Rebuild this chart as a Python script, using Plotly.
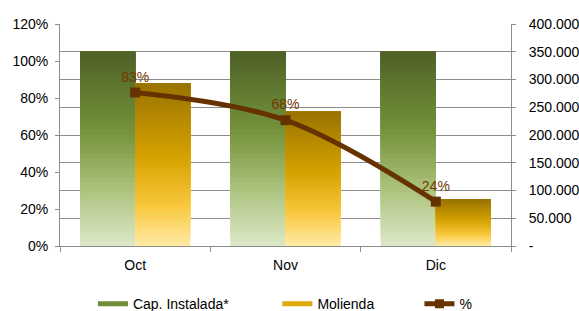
import plotly.graph_objects as go
from plotly.colors import sample_colorscale

# ---- data ----
categories = ["Oct", "Nov", "Dic"]
cap_instalada = [350000, 350000, 350000]
molienda = [293000, 242000, 84000]
pct = [0.83, 0.68, 0.24]
pct_labels = ["83%", "68%", "24%"]
right_tickvals = [0, 50000, 100000, 150000, 200000, 250000, 300000, 350000, 400000]
right_ticktext = ["-", "50.000", "100.000", "150.000", "200.000", "250.000", "300.000", "350.000", "400.000"]

FONT = "Liberation Sans, Arial, sans-serif"
GRID = "#8c8c8c"

green_scale = [[0.0, "#dbe7c4"], [0.3, "#a9c07a"], [0.6, "#73923a"], [1.0, "#4f6228"]]
orange_scale = [[0.0, "#ffe9a0"], [0.25, "#f8c63a"], [0.55, "#d6a200"], [1.0, "#9a7400"]]

N = 40
fig = go.Figure()


def add_gradient_bars(vals, scale, group):
    # layered bars: each layer spans from its start fraction up to the full value,
    # so successive layers build a vertical gradient without seams
    cols = sample_colorscale(scale, [i / (N - 1) for i in range(N)])
    for i in range(N):
        fig.add_trace(go.Bar(
            x=categories,
            y=[v * (N - i) / N for v in vals],
            base=[v * i / N for v in vals],
            offsetgroup=group,
            marker=dict(color=cols[i], line=dict(width=0)),
            showlegend=False,
            hoverinfo="skip",
            yaxis="y",
        ))


add_gradient_bars(cap_instalada, green_scale, "cap")
add_gradient_bars(molienda, orange_scale, "mol")

# percentage line (on left axis overlay)
fig.add_trace(go.Scatter(
    x=categories, y=pct, mode="lines+markers+text",
    line=dict(color="#663300", width=5, shape="spline", smoothing=1.0),
    marker=dict(symbol="square", size=10, color="#663300"),
    text=pct_labels, textposition="top center",
    textfont=dict(family=FONT, size=14, color="#763800"),
    yaxis="y2", showlegend=False, cliponaxis=False,
))

# legend entries
fig.add_trace(go.Scatter(x=[None], y=[None], mode="lines", name="Cap. Instalada*",
                         line=dict(color="#6f8c36", width=5), legend="legend"))
fig.add_trace(go.Scatter(x=[None], y=[None], mode="lines", name="Molienda",
                         line=dict(color="#e0a90a", width=5), legend="legend2"))
fig.add_trace(go.Scatter(x=[None], y=[None], mode="lines+markers", name="%",
                         line=dict(color="#663300", width=5),
                         marker=dict(symbol="square", size=9, color="#663300"),
                         legend="legend3", yaxis="y2"))

leg_common = dict(orientation="h", yanchor="middle", y=-0.262, xanchor="left",
                  font=dict(family=FONT, size=14, color="#000000"),
                  bgcolor="rgba(0,0,0,0)")

fig.update_layout(
    width=579, height=311,
    margin=dict(l=60, r=68, t=24, b=65, autoexpand=False),
    paper_bgcolor="white", plot_bgcolor="white",
    barmode="group", bargap=0.267, bargroupgap=0.0,
    font=dict(family=FONT, size=14, color="#000000"),
    xaxis=dict(
        type="category", range=[-0.5, 2.5], showline=True, linecolor=GRID, linewidth=1,
        ticks="outside", tickson="boundaries", ticklen=5, tickcolor=GRID,
        showgrid=False, tickfont=dict(family=FONT, size=14), ticklabelstandoff=6,
    ),
    yaxis=dict(
        side="right", range=[0, 400000], tickvals=right_tickvals, ticktext=right_ticktext,
        showline=True, linecolor=GRID, linewidth=1, ticks="outside", ticklen=4, tickcolor=GRID,
        showgrid=True, gridcolor=GRID, gridwidth=1, zeroline=False,
        tickfont=dict(family=FONT, size=14), ticklabelstandoff=10,
    ),
    yaxis2=dict(
        side="left", overlaying="y", range=[0, 1.2], tickformat=".0%", dtick=0.2,
        showline=True, linecolor=GRID, linewidth=1, ticks="outside", ticklen=4, tickcolor=GRID,
        showgrid=False, zeroline=False, tickfont=dict(family=FONT, size=14),
        ticklabelstandoff=4,
    ),
    legend=dict(x=0.073, **leg_common),
    legend2=dict(x=0.482, **leg_common),
    legend3=dict(x=0.797, **leg_common),
)

fig.write_html("out.html", config={"displayModeBar": False},
               post_script="document.body.style.margin='0';")
